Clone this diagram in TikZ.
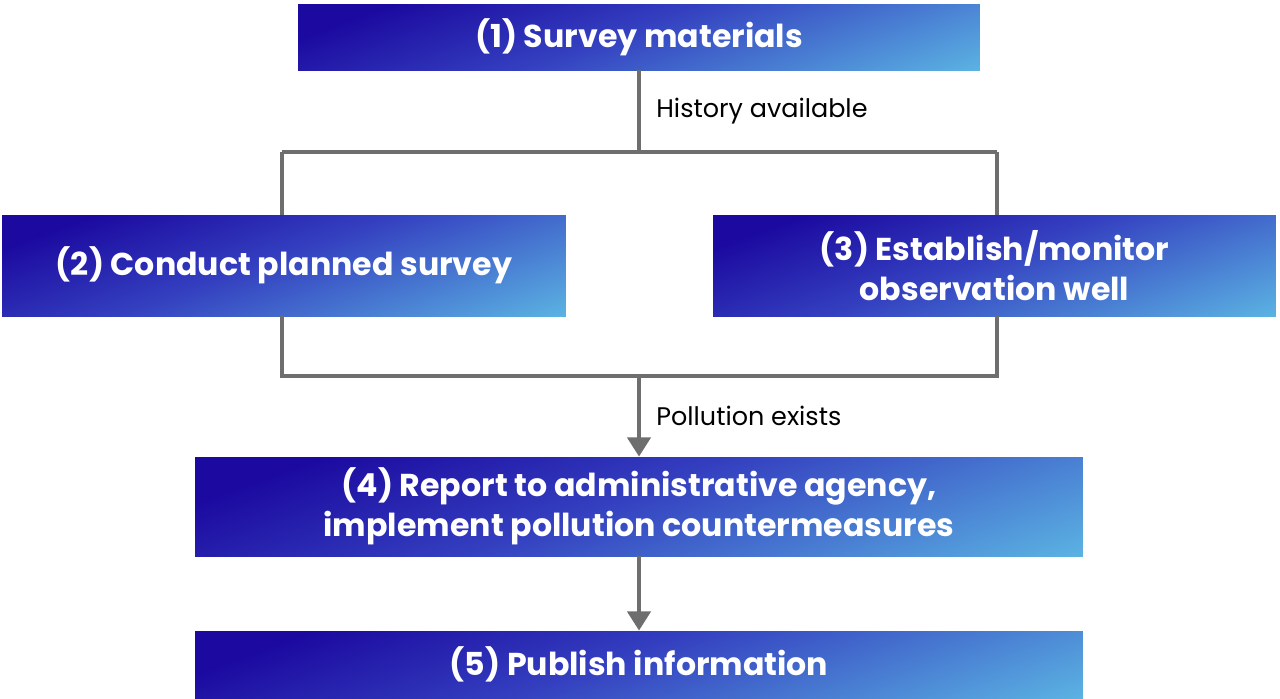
\documentclass[tikz,border=0pt]{standalone}
\usepackage{fontspec}
\setmainfont{Poppins}
\usetikzlibrary{arrows.meta}
\definecolor{dk}{HTML}{1C0AA0}
\definecolor{md}{HTML}{3440C0}
\definecolor{lt}{HTML}{66D4EC}
\definecolor{ln}{HTML}{6E6E6E}
\pgfdeclarehorizontalshading{boxgrad}{100bp}{color(0bp)=(dk); color(25bp)=(dk); color(48bp)=(md); color(92bp)=(lt); color(100bp)=(lt)}
\tikzset{
 box/.style={shading=boxgrad, shading angle=-70, draw=none, text=white, font=\fontsize{18}{23}\selectfont\bfseries, align=center, inner sep=0pt},
 conn/.style={draw=ln, line width=2.8pt},
 arr/.style={conn, -{Triangle[length=11pt,width=13pt]}},
 lbl/.style={font=\fontsize{14.5}{17}\selectfont, anchor=west, inner sep=0pt}
}
\begin{document}
\begin{tikzpicture}[x=0.02cm,y=-0.02cm]
\useasboundingbox (0,0) rectangle (1280,698);
\node[box, minimum width=13.64cm, minimum height=1.32cm] (b1) at (639,37) {(1) Survey materials};
\node[box, minimum width=11.28cm, minimum height=2.02cm] (b2) at (284,265.5) {(2) Conduct planned survey};
\node[box, minimum width=11.26cm, minimum height=2.02cm] (b3) at (994.5,265.5) {(3) Establish/monitor\\observation well};
\node[box, minimum width=17.76cm, minimum height=1.98cm] (b4) at (639,506.5) {(4) Report to administrative agency,\\implement pollution countermeasures};
\node[box, minimum width=17.76cm, minimum height=1.34cm] (b5) at (639,664.5) {(5) Publish information};
\coordinate (t1) at (639,152);
\coordinate (tl) at (282,152);
\coordinate (tr) at (997,152);
\coordinate (u1) at (639,376);
\coordinate (ul) at (282,376);
\coordinate (ur) at (997,376);
\draw[conn] (b1.south) -- (t1);
\draw[conn] (tl) -- (tr);
\draw[conn] (tl) -- (tl |- b2.north);
\draw[conn] (tr) -- (tr |- b3.north);
\draw[conn] (ul |- b2.south) -- (ul) -- (ur) -- (ur |- b3.south);
\draw[arr] (u1) -- (b4.north);
\draw[arr] (b4.south) -- (b5.north);
\node[lbl] (l1) at (656,111) {History available};
\node[lbl] (l2) at (656,416) {Pollution exists};
\end{tikzpicture}
\end{document}
